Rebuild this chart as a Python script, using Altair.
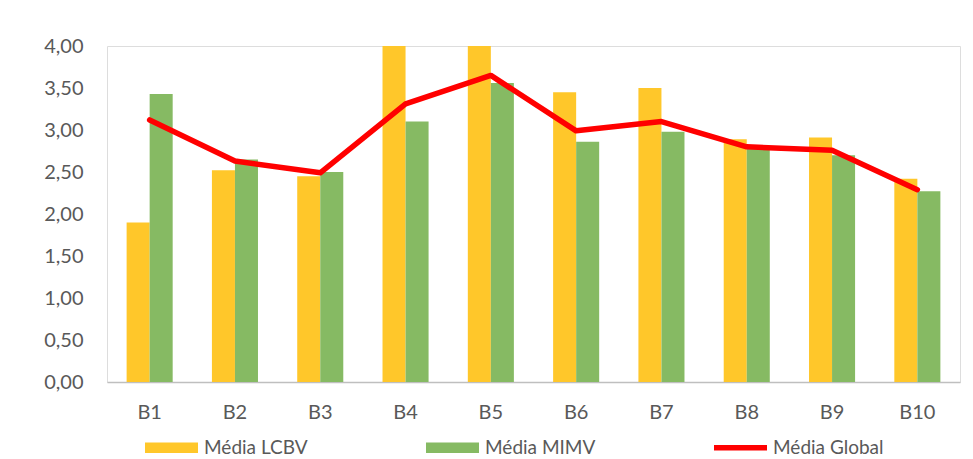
import altair as alt
import pandas as pd

categorias = ["B1", "B2", "B3", "B4", "B5", "B6", "B7", "B8", "B9", "B10"]
media_lcbv = [1.90, 2.52, 2.45, 4.00, 4.00, 3.45, 3.50, 2.89, 2.91, 2.42]
media_mimv = [3.43, 2.65, 2.50, 3.10, 3.56, 2.86, 2.98, 2.80, 2.70, 2.27]
media_global = [3.12, 2.63, 2.49, 3.31, 3.65, 2.99, 3.10, 2.80, 2.76, 2.29]

series = ["Média LCBV", "Média MIMV", "Média Global"]
cores = ["#FFC72A", "#86BA63", "#FF0000"]

bars = pd.DataFrame({
    "cat": categorias * 2,
    "serie": [series[0]] * len(categorias) + [series[1]] * len(categorias),
    "valor": media_lcbv + media_mimv,
})
linha = pd.DataFrame({"cat": categorias, "serie": series[2], "valor": media_global})

FONT = "Lato"
TXT = "#595959"

color = alt.Color(
    "serie:N",
    scale=alt.Scale(domain=series, range=cores),
    sort=series,
    legend=alt.Legend(
        title=None,
        orient="none",
        legendX=38,
        legendY=375,
        direction="horizontal",
        columns=3,
        columnPadding=118,
        symbolSize=2809,
        symbolType={"expr": "datum.value == 'Média Global' ? 'M-1,-0.1H1V0.1H-1Z' : 'M-1,-0.2H1V0.2H-1Z'"},
        symbolStrokeWidth=0,
        symbolOpacity=1,
        labelOffset=6,
        labelFont=FONT,
        labelFontSize=19,
        labelColor=TXT,
        labelLimit=300,
    ),
)

xenc = alt.X(
    "cat:N",
    sort=categorias,
    scale=alt.Scale(paddingInner=0.46, paddingOuter=0.23),
    axis=alt.Axis(
        title=None,
        labelAngle=0,
        ticks=False,
        domainColor="#BFBFBF",
        domainWidth=1.5,
        labelFont=FONT,
        labelFontSize=20,
        labelColor=TXT,
        labelPadding=20,
        grid=False,
    ),
)

yenc = alt.Y(
    "valor:Q",
    scale=alt.Scale(domain=[0, 4], nice=False),
    axis=alt.Axis(
        title=None,
        values=[0, 0.5, 1, 1.5, 2, 2.5, 3, 3.5, 4],
        labelExpr="replace(format(datum.value, '.2f'), '.', ',')",
        ticks=False,
        domain=False,
        grid=False,
        labelFont=FONT,
        labelFontSize=20,
        labelColor=TXT,
        labelPadding=24,
    ),
)

barras = alt.Chart(bars).mark_bar().encode(
    x=xenc,
    xOffset=alt.XOffset("serie:N", sort=series[:2], scale=alt.Scale(paddingInner=0, paddingOuter=0)),
    y=yenc,
    color=color,
)

linha_chart = alt.Chart(linha).mark_line(strokeWidth=5.5, strokeJoin="round", strokeCap="round").encode(
    x=alt.X("cat:N", sort=categorias),
    y=alt.Y("valor:Q"),
    color=color,
)

chart = alt.layer(barras, linha_chart).properties(
    width=853,
    height=336,
    autosize=alt.AutoSizeParams(type="none"),
    padding={"left": 99, "top": 38, "right": 5, "bottom": 76},
).configure_view(strokeWidth=0, stroke="transparent").configure(background="white")

chart.save("out.html", embed_options={"renderer": "svg", "actions": False})
